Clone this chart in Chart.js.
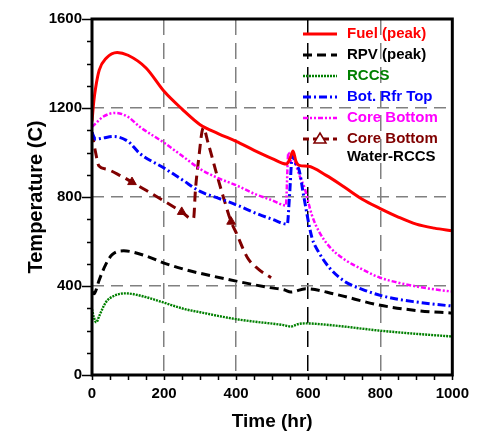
<!DOCTYPE html>
<html>
<head>
<meta charset="utf-8">
<title>Temperature vs Time</title>
<script src="https://cdn.jsdelivr.net/npm/chart.js@4"></script>
<style>
  body { margin: 0; background: #fff; }
  #wrap { width: 479px; height: 435px; }
</style>
</head>
<body>
<div id="wrap"><canvas id="myChart" width="479" height="435"></canvas></div>
<script>
'use strict';

// Values (time in hr, temperature in C)
let fuelTime = [0, 5, 10, 20, 40, 70, 100, 150, 200, 250, 300, 350, 400, 450, 500, 540, 550, 558, 566, 575, 600, 650, 700, 750, 800, 850, 900, 950, 1000];
let fuelTemp = [1140, 1230, 1290, 1370, 1425, 1450, 1437, 1380, 1275, 1195, 1125, 1085, 1050, 1010, 973, 948, 975, 1007, 960, 942, 938, 897, 845, 790, 748, 710, 678, 660, 648];

let rpvTime = [0, 6, 12, 19, 38, 56, 88, 150, 198, 258, 300, 400, 492, 533, 552, 593, 675, 795, 900, 1000];
let rpvTemp = [375, 365, 385, 422, 496, 541, 558, 535, 504, 474, 457, 422, 393, 383, 373, 388, 363, 315, 290, 278];

let rccsTime = [0, 5, 12, 20, 38, 60, 93, 150, 198, 258, 300, 396, 450, 529, 552, 570, 590, 675, 795, 900, 1000];
let rccsTemp = [296, 260, 237, 265, 326, 355, 367, 350, 326, 296, 282, 252, 240, 225, 218, 228, 232, 222, 200, 185, 173];

let rfrTime = [0, 10, 30, 60, 100, 133, 200, 250, 300, 350, 400, 450, 500, 542, 548, 556, 565, 575, 588, 610, 630, 660, 700, 750, 800, 850, 900, 950, 1000];
let rfrTemp = [1090, 1060, 1065, 1072, 1050, 995, 930, 878, 825, 795, 765, 730, 700, 678, 800, 985, 950, 920, 800, 620, 550, 480, 422, 385, 358, 340, 328, 318, 310];

let coreTime = [0, 10, 30, 65, 100, 133, 200, 250, 300, 350, 400, 450, 500, 538, 545, 550, 556, 565, 575, 590, 610, 630, 660, 700, 750, 800, 850, 900, 950, 1000];
let coreTemp = [1115, 1130, 1160, 1178, 1160, 1115, 1044, 985, 926, 885, 853, 815, 785, 762, 1000, 955, 985, 950, 900, 840, 720, 645, 575, 520, 475, 437, 415, 398, 385, 375];

let waterTime = [0, 10, 19, 40, 80, 111, 150, 200, 249, 276, 282, 287, 295, 309, 322, 350, 370, 386, 400, 432, 460, 497];
let waterTemp = [1090, 1000, 940, 925, 895, 867, 830, 782, 733, 703, 705, 830, 956, 1111, 1044, 880, 770, 689, 640, 526, 478, 437];
let waterMarkers = [111, 249, 386];

let xTicks = [0, 200, 400, 600, 800, 1000];
let yTicks = [0, 400, 800, 1200, 1600];

const FONT = "'Liberation Sans', Arial, sans-serif";
const DARKRED = '#800000';

function toPoints(times, temps) {
  let pts = [];
  for (let i = 0; i < times.length; i++) {
    pts.push({ x: times[i], y: temps[i] });
  }
  return pts;
}

function line(label, times, temps, color, dash, width) {
  return {
    label: label,
    data: toPoints(times, temps),
    borderColor: color,
    backgroundColor: color,
    borderDash: dash,
    borderWidth: width,
    pointRadius: 0,
    fill: false,
    cubicInterpolationMode: 'monotone'
  };
}

let datasets = [
  line('Fuel (peak)', fuelTime, fuelTemp, '#ff0000', [], 3),
  line('RPV (peak)', rpvTime, rpvTemp, '#000000', [9, 5], 3),
  line('RCCS', rccsTime, rccsTemp, '#008000', [2, 1], 2.4),
  line('Bot. Rfr Top', rfrTime, rfrTemp, '#0000ff', [8, 3, 2, 3], 3),
  line('Core Bottom', coreTime, coreTemp, '#ff00ff', [5, 2, 2, 2, 2, 2], 2.5),
  line('Core Bottom Water-RCCS', waterTime, waterTemp, DARKRED, [10, 6], 3)
];

// triangles only on a few points of the water-RCCS curve
let brown = datasets[5];
brown.pointStyle = 'triangle';
brown.pointRadius = waterTime.map(t => waterMarkers.includes(t) ? 5 : 0);
brown.pointBorderWidth = 1;

// legend entries drawn inside the plot, top right
let legendItems = [
  { text: ['Fuel (peak)'], color: '#ff0000', dash: [], width: 3 },
  { text: ['RPV (peak)'], color: '#000000', dash: [9, 5], width: 3 },
  { text: ['RCCS'], color: '#008000', dash: [2, 1], width: 2.4 },
  { text: ['Bot. Rfr Top'], color: '#0000ff', dash: [8, 3, 2, 3], width: 3 },
  { text: ['Core Bottom'], color: '#ff00ff', dash: [5, 2, 2, 2, 2, 2], width: 2.5 },
  { text: ['Core Bottom', 'Water-RCCS'], color: DARKRED, dash: [6, 4], width: 3, marker: true }
];

let framePlugin = {
  id: 'frame',
  afterDraw(chart) {
    let ctx = chart.ctx;
    let area = chart.chartArea;
    let xs = chart.scales.x;
    let ys = chart.scales.y;
    ctx.save();
    ctx.strokeStyle = '#000';
    ctx.setLineDash([]);

    // minor and major ticks
    ctx.lineWidth = 1.5;
    ctx.beginPath();
    for (let v = 0; v <= 1000; v += 50) {
      let px = Math.round(xs.getPixelForValue(v)) + 0.5;
      ctx.moveTo(px, area.bottom);
      ctx.lineTo(px, area.bottom + 5);
    }
    for (let v = 0; v <= 1600; v += 100) {
      let py = Math.round(ys.getPixelForValue(v)) + 0.5;
      let len = (v % 400 === 0) ? 10 : 5;
      ctx.moveTo(area.left, py);
      ctx.lineTo(area.left - len, py);
    }
    ctx.stroke();

    // box around the plot
    ctx.lineWidth = 3;
    ctx.strokeRect(area.left, area.top, area.right - area.left, area.bottom - area.top);

    // legend
    let y = 34;
    ctx.font = 'bold 15px ' + FONT;
    ctx.textBaseline = 'middle';
    ctx.textAlign = 'left';
    for (let i = 0; i < legendItems.length; i++) {
      let item = legendItems[i];
      ctx.strokeStyle = item.color;
      ctx.lineWidth = item.width;
      ctx.setLineDash(item.dash);
      ctx.beginPath();
      ctx.moveTo(303, y);
      ctx.lineTo(337, y);
      ctx.stroke();
      if (item.marker) {
        ctx.setLineDash([]);
        ctx.lineWidth = 1.5;
        ctx.fillStyle = '#fff';
        ctx.beginPath();
        ctx.moveTo(320, y - 6);
        ctx.lineTo(326, y + 4);
        ctx.lineTo(314, y + 4);
        ctx.closePath();
        ctx.fill();
        ctx.stroke();
      }
      for (let k = 0; k < item.text.length; k++) {
        ctx.fillStyle = k === 0 ? item.color : '#000';
        ctx.fillText(item.text[k], 347, y + k * 18);
      }
      y += 21;
    }
    ctx.restore();
  }
};

function gridColor(interior, special) {
  return function(c) {
    let v = c.tick ? c.tick.value : null;
    if (v === special) return '#000';
    return interior.includes(v) ? '#808080' : 'rgba(0,0,0,0)';
  };
}

const ctx = document.getElementById('myChart').getContext('2d');

let options = {
  type: 'line',
  data: { datasets: datasets },
  options: {
    responsive: false,
    animation: false,
    layout: { padding: { top: 15, right: 26, bottom: 0, left: 0 } },
    plugins: {
      legend: { display: false },
      tooltip: { enabled: false }
    },
    scales: {
      x: {
        type: 'linear',
        min: 0,
        max: 1000,
        afterBuildTicks: s => { s.ticks = xTicks.map(v => ({ value: v })); },
        afterFit: s => { s.height = 60; },
        ticks: { color: '#000', padding: 10, callback: v => String(v),
                 font: { family: FONT, size: 15, weight: 'bold' } },
        grid: { drawTicks: false, lineWidth: 1.5, color: gridColor([200, 400, 800], 600) },
        border: { display: false, dash: [16, 8] },
        title: { display: true, text: 'Time (hr)', color: '#000', padding: { top: 0, bottom: 2 },
                 font: { family: FONT, size: 19, weight: 'bold' } }
      },
      y: {
        min: 0,
        max: 1600,
        afterBuildTicks: s => { s.ticks = yTicks.map(v => ({ value: v })); },
        afterFit: s => { s.width = 92; },
        ticks: { color: '#000', padding: 10, callback: v => String(v),
                 font: { family: FONT, size: 15, weight: 'bold' } },
        grid: { drawTicks: false, lineWidth: 1.5, color: gridColor([400, 800, 1200], null) },
        border: { display: false, dash: [12, 7] },
        title: { display: true, text: 'Temperature (C)', color: '#000', padding: { top: 24, bottom: 0 },
                 font: { family: FONT, size: 20, weight: 'bold' } }
      }
    }
  },
  plugins: [framePlugin]
};

const myChart = new Chart(ctx, options);
</script>
</body>
</html>
